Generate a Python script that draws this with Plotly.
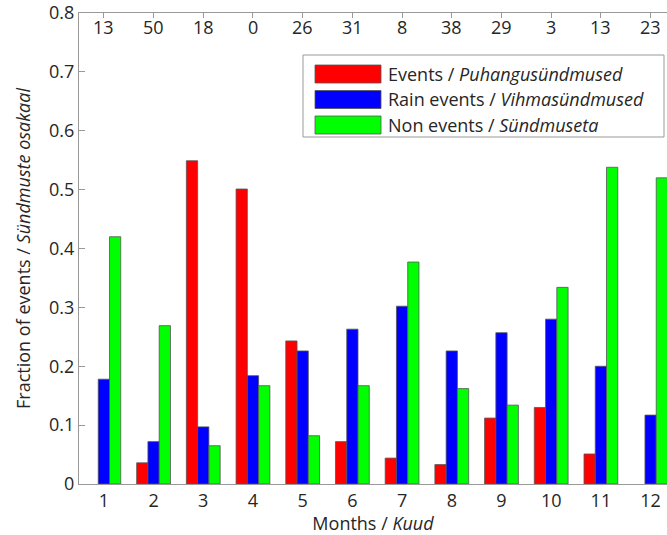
import plotly.graph_objects as go

months = list(range(1, 13))
event_counts = [13, 50, 18, 0, 26, 31, 8, 38, 29, 3, 13, 23]
events = [0.0, 0.036, 0.549, 0.501, 0.243, 0.072, 0.044, 0.033, 0.112, 0.130, 0.051, 0.0]
rain_events = [0.178, 0.072, 0.097, 0.184, 0.226, 0.263, 0.302, 0.226, 0.257, 0.280, 0.200, 0.117]
non_events = [0.420, 0.269, 0.065, 0.167, 0.082, 0.167, 0.377, 0.162, 0.134, 0.334, 0.538, 0.520]
y_ticks = [0, 0.1, 0.2, 0.3, 0.4, 0.5, 0.6, 0.7, 0.8]

series_names = ["Events / <i>Puhangusündmused</i>",
                "Rain events / <i>Vihmasündmused</i>",
                "Non events / <i>Sündmuseta</i>"]
colors = ["#ff0000", "#0000ff", "#00ff00"]

W, H = 667, 535
L, R, T, B = 79, 0, 13, 51
PW, PH = W - L - R, H - T - B
FONT = "Open Sans"
FS = 18
TXT = "#262626"
AX = "#999999"

fig = go.Figure()
for vals, name, col in zip([events, rain_events, non_events], series_names, colors):
    fig.add_trace(go.Bar(x=months, y=vals, name=name,
                         marker=dict(color=col,
                                     line=dict(color="#555555",
                                               width=[0.8 if v > 0 else 0 for v in vals])),
                         showlegend=False))

# counts at top
for m, c in zip(months, event_counts):
    fig.add_annotation(x=m, y=0.777, text=str(c), showarrow=False,
                       xanchor="center", yanchor="middle",
                       font=dict(family=FONT, size=FS, color=TXT))

def px(x):
    return (x - L) / PW

def py(y):
    return (H - B - y) / PH

# manual legend
shapes = [dict(type="rect", xref="paper", yref="paper",
               x0=px(303), x1=px(664), y0=py(137), y1=py(55),
               line=dict(color=AX, width=1), fillcolor="white", layer="above")]
row_y = [74, 99.5, 125]
for yc, name, col in zip(row_y, series_names, colors):
    shapes.append(dict(type="rect", xref="paper", yref="paper",
                       x0=px(315), x1=px(381), y0=py(yc + 9), y1=py(yc - 9),
                       line=dict(color="#555555", width=0.8), fillcolor=col, layer="above"))
    fig.add_annotation(xref="paper", yref="paper", x=px(386), y=py(yc),
                       text=name, showarrow=False, xanchor="left", yanchor="middle",
                       font=dict(family=FONT, size=FS, color=TXT))

fig.update_layout(
    width=W, height=H,
    margin=dict(l=L, r=R, t=T, b=B, pad=0),
    paper_bgcolor="white", plot_bgcolor="white",
    barmode="group", bargap=0.32, bargroupgap=0,
    font=dict(family=FONT, size=FS, color=TXT),
    shapes=shapes,
    xaxis=dict(range=[0.5, 12.33], tickmode="array", tickvals=months,
               ticktext=[str(m) for m in months],
               showline=True, linecolor=AX, linewidth=1, mirror="ticks",
               ticks="inside", ticklen=5, tickcolor=AX, showgrid=False, zeroline=False,
               layer="below traces",
               title=dict(text="Months / <i>Kuud</i>", standoff=2,
                          font=dict(family=FONT, size=FS, color=TXT)),
               tickfont=dict(family=FONT, size=FS, color=TXT)),
    yaxis=dict(range=[0, 0.8], tickmode="array", tickvals=y_ticks,
               ticktext=["0" if v == 0 else f"{v:.1f}" for v in y_ticks],
               showline=True, linecolor=AX, linewidth=1, mirror=False,
               ticks="inside", ticklen=6, tickcolor=AX, showgrid=False, zeroline=False,
               title=dict(text="Fraction of events / <i>Sündmuste osakaal</i>", standoff=13,
                          font=dict(family=FONT, size=FS, color=TXT)),
               tickfont=dict(family=FONT, size=FS, color=TXT)),
)

fig.write_html("out.html")
